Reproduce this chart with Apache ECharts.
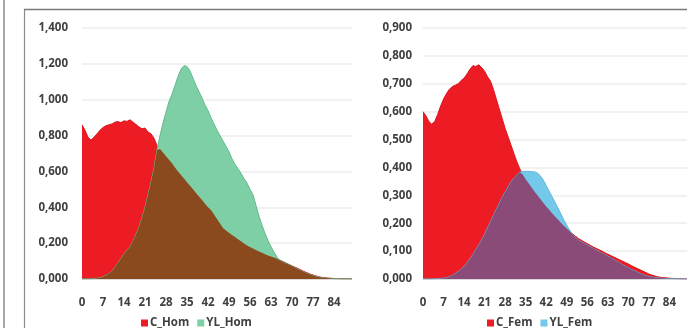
<!DOCTYPE html>
<html>
<head>
<meta charset="utf-8">
<script src="https://cdn.jsdelivr.net/npm/echarts@6/dist/echarts.min.js"></script>
<style>
  html, body { margin: 0; padding: 0; background: #ffffff; }
  #chart { width: 687px; height: 328px; }
</style>
</head>
<body>
<div id="chart"></div>
<script>
// Ages 0..90 shared by both panels
const ages = [];
for (let a = 0; a <= 90; a++) ages.push(String(a));

// Men
const cHom = [
  0.86, 0.83, 0.79, 0.775, 0.79, 0.81, 0.83, 0.845, 0.855, 0.86,
  0.865, 0.875, 0.878, 0.872, 0.882, 0.879, 0.888, 0.875, 0.862, 0.848,
  0.838, 0.842, 0.82, 0.81, 0.785, 0.745, 0.725, 0.705, 0.685, 0.665,
  0.645, 0.622, 0.60, 0.58, 0.56, 0.54, 0.52, 0.50, 0.48, 0.46,
  0.44, 0.42, 0.40, 0.385, 0.36, 0.335, 0.31, 0.285, 0.27, 0.258,
  0.246, 0.234, 0.222, 0.21, 0.198, 0.187, 0.178, 0.17, 0.162, 0.154,
  0.146, 0.138, 0.131, 0.125, 0.12, 0.113, 0.105, 0.097, 0.089, 0.081,
  0.073, 0.066, 0.058, 0.05, 0.042, 0.035, 0.028, 0.022, 0.017, 0.012,
  0.009, 0.007, 0.005, 0.004, 0.003, 0.002, 0.002, 0.001, 0.001, 0.001,
  0.0
];
const ylHom = [
  0.0, 0.0, 0.0, 0.001, 0.002, 0.004, 0.007, 0.012, 0.02, 0.03,
  0.045, 0.065, 0.09, 0.115, 0.14, 0.16, 0.18, 0.21, 0.25, 0.29,
  0.34, 0.40, 0.47, 0.54, 0.62, 0.72, 0.80, 0.87, 0.93, 0.99,
  1.03, 1.08, 1.13, 1.17, 1.19, 1.185, 1.16, 1.12, 1.08, 1.045,
  1.01, 0.97, 0.94, 0.90, 0.865, 0.83, 0.80, 0.77, 0.74, 0.71,
  0.67, 0.64, 0.615, 0.59, 0.56, 0.535, 0.50, 0.47, 0.41, 0.35,
  0.30, 0.255, 0.215, 0.18, 0.15, 0.122, 0.103, 0.095, 0.087, 0.079,
  0.071, 0.063, 0.055, 0.047, 0.039, 0.032, 0.025, 0.019, 0.014, 0.01,
  0.007, 0.005, 0.004, 0.003, 0.002, 0.002, 0.001, 0.001, 0.001, 0.001,
  0.0
];

// Women
const cFem = [
  0.60, 0.585, 0.565, 0.555, 0.565, 0.59, 0.62, 0.645, 0.665, 0.68,
  0.69, 0.695, 0.70, 0.712, 0.72, 0.735, 0.752, 0.765, 0.762, 0.768,
  0.758, 0.745, 0.725, 0.71, 0.68, 0.645, 0.61, 0.575, 0.54, 0.51,
  0.48, 0.45, 0.42, 0.395, 0.375, 0.358, 0.343, 0.328, 0.314, 0.30,
  0.287, 0.273, 0.26, 0.248, 0.236, 0.224, 0.213, 0.202, 0.191, 0.181,
  0.171, 0.162, 0.153, 0.145, 0.139, 0.133, 0.127, 0.121, 0.115, 0.11,
  0.105, 0.10, 0.094, 0.089, 0.084, 0.079, 0.074, 0.069, 0.064, 0.059,
  0.054, 0.048, 0.043, 0.038, 0.033, 0.028, 0.023, 0.018, 0.014, 0.011,
  0.008, 0.006, 0.005, 0.004, 0.003, 0.002, 0.002, 0.001, 0.001, 0.001,
  0.0
];
const ylFem = [
  0.0, 0.0, 0.0, 0.0, 0.001, 0.001, 0.002, 0.003, 0.005, 0.008,
  0.013, 0.02, 0.027, 0.035, 0.045, 0.058, 0.072, 0.088, 0.105, 0.122,
  0.14, 0.16, 0.183, 0.205, 0.228, 0.25, 0.272, 0.293, 0.312, 0.33,
  0.348, 0.362, 0.374, 0.383, 0.386, 0.386, 0.386, 0.385, 0.384, 0.38,
  0.37, 0.355, 0.335, 0.315, 0.295, 0.275, 0.255, 0.233, 0.212, 0.193,
  0.175, 0.16, 0.148, 0.14, 0.134, 0.128, 0.122, 0.116, 0.11, 0.104,
  0.099, 0.093, 0.088, 0.082, 0.076, 0.07, 0.064, 0.058, 0.052, 0.046,
  0.04, 0.035, 0.03, 0.025, 0.02, 0.016, 0.012, 0.009, 0.007, 0.005,
  0.004, 0.003, 0.002, 0.002, 0.001, 0.001, 0.001, 0.001, 0.0, 0.0,
  0.0
];

// Shared part of two curves, painted in a blended colour
const overlap = (a, b) => a.map((v, i) => Math.min(v, b[i]));

const RED = '#ED1C24';
const GREEN = '#7ECFA6';
const BROWN = '#8B4A1E';
const BLUE = '#74C8EA';
const PURPLE = '#8A4B78';
const TEXT = '#404040';
const FONT = '"Open Sans", "Liberation Sans", sans-serif';
const FS = 11.5;

const fmt = v => v.toFixed(3).replace('.', ',');

function xAxis(idx) {
  return {
    type: 'category', gridIndex: idx, data: ages, boundaryGap: false,
    axisLine: { lineStyle: { color: '#d9d9d9' } },
    axisTick: { show: false },
    axisLabel: { interval: 6, color: TEXT, fontFamily: FONT, fontSize: FS, fontWeight: 'bold', margin: 18 }
  };
}
function yAxis(idx, max, step, margin) {
  return {
    type: 'value', gridIndex: idx, min: 0, max: max, interval: step,
    axisLine: { show: false }, axisTick: { show: false },
    splitLine: { lineStyle: { color: '#ececec', width: 1.5 } },
    axisLabel: { formatter: fmt, color: TEXT, fontFamily: FONT, fontSize: FS, fontWeight: 'bold', margin: margin }
  };
}
function area(name, idx, data, color, lineColor, z) {
  return {
    name: name, type: 'line', xAxisIndex: idx, yAxisIndex: idx, data: data,
    symbol: 'none', smooth: false, z: z,
    itemStyle: { color: color },
    lineStyle: { color: lineColor, width: lineColor ? 1 : 0 },
    areaStyle: { color: color, opacity: 1 }
  };
}
function legend(names, left) {
  return {
    data: names, left: left, top: 312,
    icon: 'rect', itemWidth: 7, itemHeight: 7, itemGap: 8,
    textStyle: { color: TEXT, fontFamily: FONT, fontSize: FS, fontWeight: 'bold', padding: [0, 0, 0, -3] }
  };
}

const chart = echarts.init(document.getElementById('chart'), null, { renderer: 'canvas' });
chart.setOption({
  animation: false,
  backgroundColor: '#ffffff',
  grid: [
    { left: 82, top: 28, width: 270, height: 251 },
    { left: 423, top: 28, width: 270, height: 251 }
  ],
  xAxis: [xAxis(0), xAxis(1)],
  yAxis: [yAxis(0, 1.4, 0.2, 14), yAxis(1, 0.9, 0.1, 11)],
  legend: [legend(['C_Hom', 'YL_Hom'], 136), legend(['C_Fem', 'YL_Fem'], 482)],
  series: [
    area('C_Hom', 0, cHom, RED, '#d8161d', 2),
    area('YL_Hom', 0, ylHom, GREEN, '#62b98c', 3),
    area('Hom_both', 0, overlap(cHom, ylHom), BROWN, null, 4),
    area('C_Fem', 1, cFem, RED, '#d8161d', 2),
    area('YL_Fem', 1, ylFem, BLUE, '#5fb6dc', 3),
    area('Fem_both', 1, overlap(cFem, ylFem), PURPLE, null, 4)
  ],
  graphic: [
    { type: 'line', shape: { x1: 4, y1: 0, x2: 4, y2: 328 }, style: { stroke: '#8a8a8a', lineWidth: 1.5 }, z: 100 },
    { type: 'line', shape: { x1: 24.5, y1: 9, x2: 24.5, y2: 328 }, style: { stroke: '#8a8a8a', lineWidth: 1.2 }, z: 100 },
    { type: 'line', shape: { x1: 24, y1: 9.5, x2: 687, y2: 9.5 }, style: { stroke: '#7a7a7a', lineWidth: 1.5 }, z: 100 }
  ]
});
</script>
</body>
</html>
